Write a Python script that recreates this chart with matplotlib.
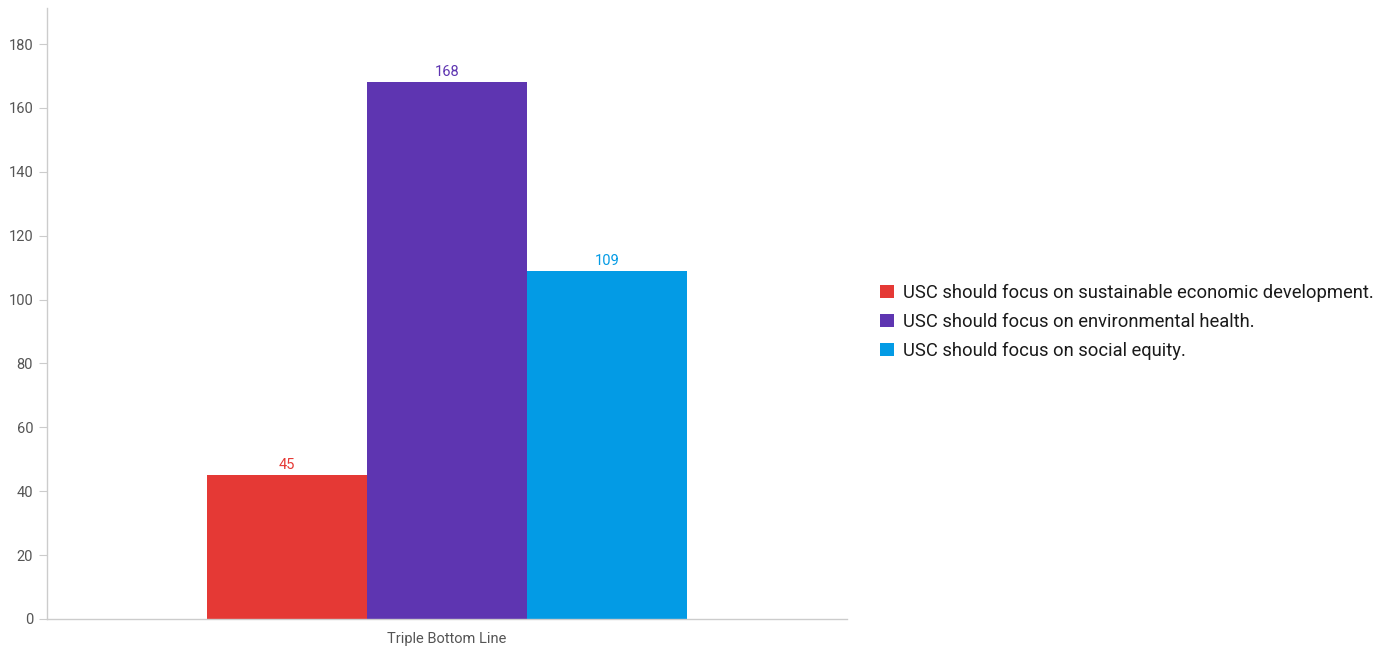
import matplotlib
matplotlib.use("Agg")
import matplotlib.pyplot as plt
from matplotlib.patches import Patch

plt.rcParams['font.family'] = ['Roboto', 'DejaVu Sans']

categories = ["Triple Bottom Line"]
series_names = [
    "USC should focus on sustainable economic development.",
    "USC should focus on environmental health.",
    "USC should focus on social equity.",
]
values = [45, 168, 109]
colors = ["#E53935", "#5E35B1", "#039BE5"]
yticks = [0, 20, 40, 60, 80, 100, 120, 140, 160, 180]

fig = plt.figure(figsize=(13.97, 6.48), dpi=100)
ax = fig.add_axes([47/1397, 29/648, 800/1397, 611/648])

bw = 0.2
n = len(values)
for i, (v, c) in enumerate(zip(values, colors)):
    x = (i - (n - 1) / 2) * bw
    ax.bar(x, v, width=bw, color=c, linewidth=0)
    ax.text(x, v + 1.0, str(v), ha='center', va='bottom', color=c, fontsize=10.5)

ax.set_xlim(-0.5, 0.5)
ax.set_ylim(0, 191.3)
ax.set_xticks([0])
ax.set_xticklabels(categories, fontsize=10.5, color='#555555')
ax.tick_params(axis='x', length=0, pad=9)
ax.set_yticks(yticks)
ax.tick_params(axis='y', length=6, color='#cccccc', labelcolor='#555555', labelsize=10.5, pad=4)
for s in ['top', 'right']:
    ax.spines[s].set_visible(False)
for s in ['left', 'bottom']:
    ax.spines[s].set_color('#cccccc')
    ax.spines[s].set_linewidth(1)

handles = [Patch(facecolor=c, edgecolor='none') for c in colors]
fig.legend(handles, series_names, loc='center left', bbox_to_anchor=(880/1397, 1 - 322/648),
           frameon=False, fontsize=13.2, handlelength=0.75, handleheight=0.75,
           handletextpad=0.5, labelspacing=0.6, labelcolor='#1a1a1a',
           borderpad=0, borderaxespad=0)

fig.savefig("out.png", dpi=100)
